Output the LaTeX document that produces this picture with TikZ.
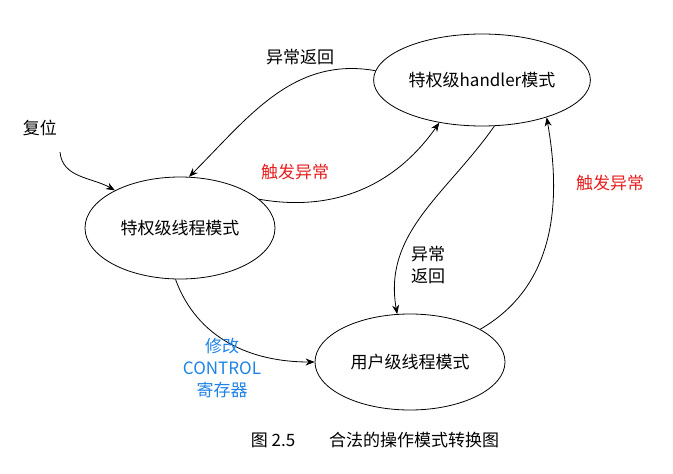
\documentclass[tikz,border=0pt]{standalone}
\usepackage{fontspec}
\setmainfont{Noto Sans CJK SC}
\usetikzlibrary{arrows.meta,shapes.geometric}
\definecolor{trigred}{RGB}{230,30,30}
\definecolor{ctrlblue}{RGB}{30,130,230}
\tikzset{
  modeNode/.style={draw,ellipse,minimum width=#1,font=\fontsize{17}{20}\selectfont,line width=0.8pt},
  trans/.style={-{Stealth[length=9pt,width=7pt]},line width=0.8pt},
  lbl/.style={font=\fontsize{17}{22}\selectfont,align=center}
}
\begin{document}
\begin{tikzpicture}[x=1pt,y=-1pt]
 \useasboundingbox (0,0) rectangle (673,474);
 % mode states
 \node[modeNode=190pt,minimum height=92pt] (handler) at (482,80) {特权级handler模式};
 \node[modeNode=190pt,minimum height=102pt] (thread) at (180,228) {特权级线程模式};
 \node[modeNode=190pt,minimum height=96pt] (user) at (410,362) {用户级线程模式};
 \node[lbl] (reset) at (40,128) {复位};
 \coordinate (resetEnd) at (60,152);
 % transitions
 \draw[trans] (resetEnd) to[out=-85,in=150] (thread.150);
 \draw[trans] (handler.175) to[out=170,in=45] (thread.80);
 \draw[trans] (thread.20) to[out=-10,in=235] (handler.225);
 \draw[trans] (handler.285) to[out=235,in=100] (user.105);
 \draw[trans] (user.25) to[out=30,in=-80] (handler.330);
 \draw[trans] (thread.265) to[out=-70,in=180] (user.180);
 % labels
 \node[lbl] (retTop) at (300,57) {异常返回};
 \node[lbl,text=trigred] (trigMid) at (295,172) {触发异常};
 \node[lbl,align=left] (retRight) at (428,265) {异常\\返回};
 \node[lbl,text=trigred] (trigRight) at (610,183) {触发异常};
 \node[lbl,text=ctrlblue] (ctrl) at (222,368) {修改\\CONTROL\\寄存器};
 \node[font=\fontsize{17}{20}\selectfont] (caption) at (375,440) {图 2.5\hspace{2em}合法的操作模式转换图};
\end{tikzpicture}
\end{document}
